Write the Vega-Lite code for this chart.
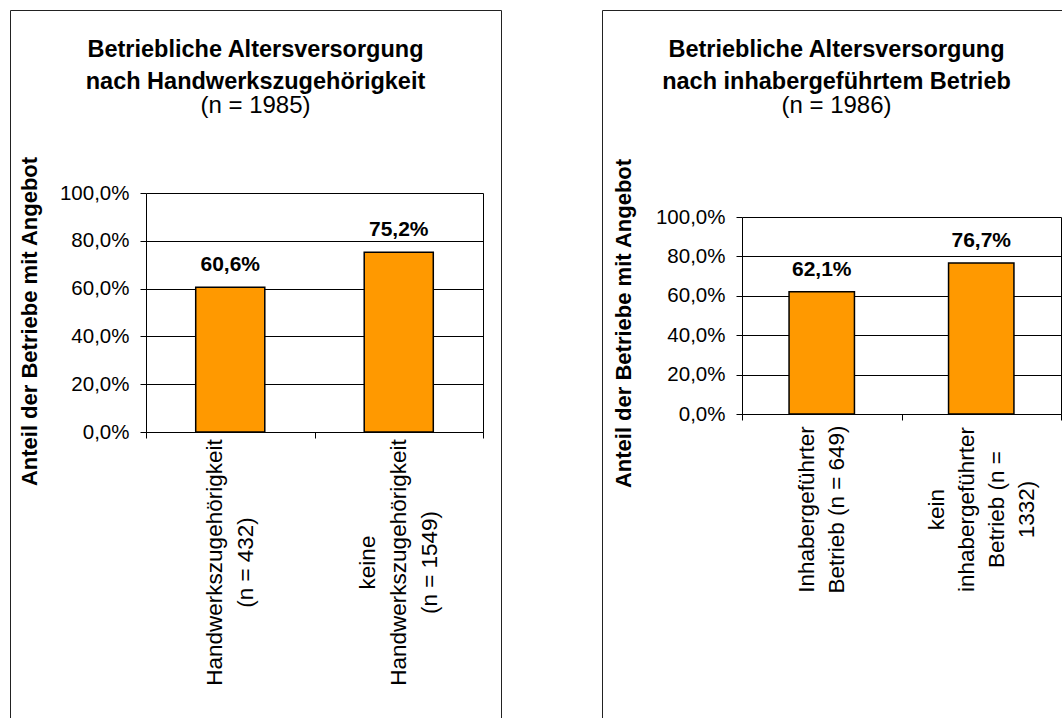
{
  "$schema": "https://vega.github.io/schema/vega-lite/v6.json",
  "padding": {"left": 9, "top": 9, "right": 0, "bottom": 0},
  "background": "white",
  "spacing": 99,
  "config": {
    "locale": {"number": {"decimal": ",", "thousands": ".", "grouping": [3], "currency": ["", " €"]}},
    "font": "Liberation Sans",
    "view": {"stroke": "#222222", "strokeWidth": 1},
    "axis": {"domainColor": "black", "tickColor": "black", "gridColor": "black", "gridOpacity": 1, "labelColor": "black", "titleColor": "black", "labelFont": "Liberation Sans", "titleFont": "Liberation Sans"},
    "title": {"font": "Liberation Sans", "subtitleFont": "Liberation Sans", "color": "black", "subtitleColor": "black", "anchor": "middle", "fontSize": 23.5, "fontWeight": "bold", "lineHeight": 32, "subtitleFontSize": 24, "subtitleFontWeight": "normal", "subtitlePadding": 1, "offset": -108}
  },
  "hconcat": [
    {
      "width": 491,
      "height": 708,
      "title": {"text": ["Betriebliche Altersversorgung", "nach Handwerkszugehörigkeit"], "subtitle": "(n = 1985)"},
      "data": {"values": [
        {"gruppe": "Handwerkszugehörigkeit|(n = 432)", "anteil": 0.606},
        {"gruppe": "keine|Handwerkszugehörigkeit|(n = 1549)", "anteil": 0.752}
      ]},
      "resolve": {"axis": {"y": "independent"}},
      "layer": [
        {
          "mark": {"type": "bar", "width": {"band": 0.41}, "fill": "#FF9900", "stroke": "black", "strokeWidth": 1.5},
          "encoding": {
            "x": {"field": "gruppe", "type": "nominal", "sort": null,
              "scale": {"range": [136, 473], "paddingInner": 0, "paddingOuter": 0},
              "axis": {"orient": "bottom", "offset": -286, "title": null, "tickBand": "extent", "tickSize": 6, "labelAngle": -90, "labelAlign": "center", "labelBaseline": "middle", "labelPadding": 124,
                "labelFontSize": {"condition": {"test": "!isValid(datum.value)", "value": 0}, "value": 22.5},
                "labelOffset": {"condition": {"test": "isValid(datum.value) && length(split(datum.value, '|')) === 3", "value": -31}, "value": -15.5},
                "labelLineHeight": 31, "labelExpr": "isValid(datum.value) ? split(datum.value, '|') : ''", "grid": false, "labelLimit": 0}},
            "y": {"field": "anteil", "type": "quantitative",
              "scale": {"domain": [0, 1], "range": [422, 183], "nice": false},
              "axis": {"orient": "left", "offset": -136, "values": [0, 0.2, 0.4, 0.6, 0.8, 1], "format": ".1%", "grid": true, "tickSize": 6, "labelPadding": 11, "labelFontSize": 20.5, "title": "Anteil der Betriebe mit Angebot", "titleFontSize": 22, "titleFontWeight": "bold", "titleX": -117, "titleY": 311, "titleBaseline": "middle", "titleAlign": "center", "titleAngle": 270}}
          }
        },
        {
          "mark": {"type": "text", "dy": -16, "baseline": "alphabetic", "fontSize": 21, "fontWeight": "bold", "color": "black"},
          "encoding": {
            "x": {"field": "gruppe", "type": "nominal", "sort": null, "axis": {"title": null}},
            "y": {"field": "anteil", "type": "quantitative",
              "axis": {"orient": "right", "offset": -18, "ticks": false, "labels": false, "grid": false, "title": null}},
            "text": {"field": "anteil", "type": "quantitative", "format": ".1%"}
          }
        }
      ]
    },
    {
      "width": 461,
      "height": 708,
      "title": {"text": ["Betriebliche Altersversorgung", "nach inhabergeführtem Betrieb"], "subtitle": "(n = 1986)", "dx": 4},
      "data": {"values": [
        {"gruppe": "Inhabergeführter|Betrieb (n = 649)", "anteil": 0.621},
        {"gruppe": "kein|inhabergeführter|Betrieb (n =|1332)", "anteil": 0.767}
      ]},
      "resolve": {"axis": {"y": "independent"}},
      "layer": [
        {
          "mark": {"type": "bar", "width": {"band": 0.41}, "fill": "#FF9900", "stroke": "black", "strokeWidth": 1.5},
          "encoding": {
            "x": {"field": "gruppe", "type": "nominal", "sort": null,
              "scale": {"range": [140, 459], "paddingInner": 0, "paddingOuter": 0},
              "axis": {"orient": "bottom", "offset": -304, "title": null, "tickBand": "extent", "tickSize": 6, "labelAngle": -90, "labelAlign": "center", "labelBaseline": "middle", "labelPadding": 89,
                "labelFontSize": {"condition": {"test": "!isValid(datum.value)", "value": 0}, "value": 22.5},
                "labelOffset": {"condition": {"test": "isValid(datum.value) && length(split(datum.value, '|')) === 4", "value": -45}, "value": -15},
                "labelLineHeight": 30, "labelExpr": "isValid(datum.value) ? split(datum.value, '|') : ''", "grid": false, "labelLimit": 0}},
            "y": {"field": "anteil", "type": "quantitative",
              "scale": {"domain": [0, 1], "range": [404, 207], "nice": false},
              "axis": {"orient": "left", "offset": -140, "values": [0, 0.2, 0.4, 0.6, 0.8, 1], "format": ".1%", "grid": true, "tickSize": 6, "labelPadding": 11, "labelFontSize": 20.5, "title": "Anteil der Betriebe mit Angebot", "titleFontSize": 22, "titleFontWeight": "bold", "titleX": -119, "titleY": 313, "titleBaseline": "middle", "titleAlign": "center", "titleAngle": 270}}
          }
        },
        {
          "mark": {"type": "text", "dy": -16, "baseline": "alphabetic", "fontSize": 21, "fontWeight": "bold", "color": "black"},
          "encoding": {
            "x": {"field": "gruppe", "type": "nominal", "sort": null, "axis": {"title": null}},
            "y": {"field": "anteil", "type": "quantitative",
              "axis": {"orient": "right", "offset": -2, "ticks": false, "labels": false, "grid": false, "title": null}},
            "text": {"field": "anteil", "type": "quantitative", "format": ".1%"}
          }
        }
      ]
    }
  ]
}
